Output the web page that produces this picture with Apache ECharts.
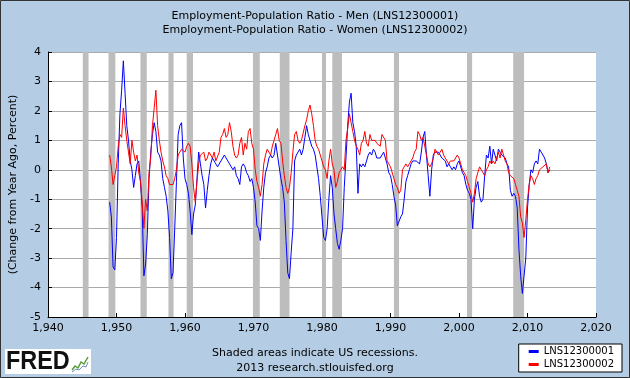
<!DOCTYPE html>
<html><head><meta charset="utf-8">
<script src="https://cdn.jsdelivr.net/npm/echarts@6/dist/echarts.min.js"></script>
<style>html,body{margin:0;padding:0;background:#b4cde4}#c{width:630px;height:378px}</style>
</head><body><div id="c"></div>
<script>
// Quarterly readings (start 1949.0, step 0.25 year) of year-over-year change, percent
const startYear = 1949;
const stepYears = 0.25;
const menValues = [
 -1.1,-1.6,-3.3,-3.4, -2.3,0.2,1.9,2.7, 3.7,2.6,1.5,1.0, 0.3,0.0,-0.6,-0.2, 0.2,0.3,-0.4,-1.3,
 -3.6,-3.2,-2.2,-0.3, 0.6,1.2,1.6,1.3, 0.6,0.5,0.3,-0.3, -0.6,-0.9,-1.4,-2.3, -3.7,-3.5,-2.0,-0.4,
 1.2,1.5,
 1.6,0.4, -0.3,-0.5,-0.8,-1.4, -2.2,-1.5,-1.2,-0.3, 0.6,0.2,-0.2,-0.5, -1.3,-0.7,-0.2,0.2,
 0.4,0.4,0.2,0.1, 0.1,0.3,0.3,0.5, 0.5,0.3,0.2,0.2, 0.0,0.1,-0.2,-0.3, -0.5,0.1,0.2,0.1,
 -0.1,-0.2,-0.4,-0.3,
 -0.6,-1.1,-1.9,-2.0, -2.4,-1.4,-0.6,-0.1, 0.1,0.4,0.5,0.4, 0.5,0.9,0.5,0.5, -0.3,-0.6,-1.1,-2.4,
 -3.5,-3.7,-2.8,-2.0, 0.3,0.5,0.5,0.7, 0.5,0.7,1.1,1.5, 1.2,1.0,0.8,0.7, 0.5,0.1,-0.3,-0.9,
 -1.6,-2.3,
 -2.4,-2.0, -1.0,-0.2,-0.6,-1.5, -2.0,-2.5,-2.7,-2.4, -2.0,-0.6,0.4,1.5, 2.3,2.6,1.6,1.3,
 0.8,-0.8,0.2,0.1, 0.2,0.1,0.3,0.5, 0.6,0.5,0.7,0.6, 0.4,0.4,0.4,0.4, 0.6,0.4,0.2,-0.1,
 -0.2,-0.5,-0.9,-1.2, -1.9,-1.9,
 -1.6,-1.5, -1.0,-0.4,-0.2,0.0, 0.2,0.3,0.3,0.3, 0.3,0.2,0.6,1.1, 1.3,0.5,-0.2,-0.9,
 0.0,0.5,0.6,0.6, 0.6,0.6,0.4,0.4, 0.3,0.1,0.2,0.1, 0.0,0.1,0.0,0.2, 0.3,0.3,-0.1,-0.2,
 -0.5,-0.7,-0.8,-1.0,
 -2.0,-1.0,-0.6,-0.4, -0.9,-1.1,-1.0,-0.2, 0.5,0.4,0.8,0.2, 0.7,0.5,0.3,0.7, 0.6,0.5,0.5,0.4,
 0.2,0.1,-0.7,-0.9, -0.8,-0.9,-1.3,-2.7, -3.6,-4.2,-4.2,-3.0, -1.3,-0.5,0.0,-0.1, 0.2,0.3,0.2,0.7,
 0.6,0.6,0.4,0.2, -0.1,0.0
];
const womenValues = [
 0.5,0.1,-0.5,-0.2, 0.1,0.8,1.2,1.1, 2.1,1.5,1.0,0.6, 0.2,1.0,0.6,0.3, 0.5,-0.1,-0.4,-1.1,
 -2.0,-1.0,-1.4,-0.1, 0.4,1.5,2.1,2.7, 1.5,1.0,0.6,0.3, 0.1,-0.2,-0.3,-0.5, -0.5,-0.5,-0.3,0.0,
 0.5,0.5,
 0.7,0.7, 0.6,0.8,0.9,0.8, 0.2,-0.6,-1.1,-0.4, 0.2,0.5,0.5,0.6, 0.3,0.4,0.6,0.6,
 0.4,0.6,0.3,0.3, 0.6,1.1,1.2,1.4, 1.1,1.2,1.6,1.3, 0.8,0.5,0.4,0.5, 0.9,1.1,0.5,0.9,
 0.7,1.3,1.4,0.9,
 0.7,0.0,-0.4,-0.6, -0.9,-0.5,0.2,0.5, 0.7,0.6,0.5,0.8, 1.0,1.2,1.4,1.0, 0.9,0.3,-0.2,-0.6,
 -0.8,-0.6,-0.1,0.6, 1.2,1.3,1.0,0.9, 1.0,1.0,1.5,1.7, 2.0,2.2,1.9,1.5, 1.0,0.8,0.7,0.5,
 0.3,0.1,
 0.0,-0.3, 0.3,0.7,0.2,0.0, -0.6,-0.4,-0.1,0.0, 0.1,0.0,1.0,1.4, 1.9,1.6,1.3,1.0,
 0.8,0.7,0.5,0.9, 1.0,1.3,0.9,0.8, 1.2,1.0,1.0,1.0, 0.9,0.9,0.8,1.2, 1.2,1.0,0.3,0.2,
 0.1,0.1,-0.3,-0.5, -0.6,-0.8,
 -0.7,0.0, 0.1,0.2,0.1,0.2, 0.3,0.4,0.6,0.7, 1.3,1.2,1.0,1.1, 0.8,0.5,0.2,0.1,
 0.2,0.4,0.7,0.7, 0.5,0.6,0.7,0.5, 0.5,0.3,0.2,0.3, 0.3,0.3,0.4,0.5, 0.4,0.2,0.0,-0.1,
 -0.2,-0.4,-0.6,-0.8,
 -1.1,-0.8,-0.3,-0.1, 0.1,0.0,-0.1,-0.2, 0.0,0.1,0.3,0.2, 0.3,0.2,0.4,0.6, 0.4,0.7,0.5,0.3,
 0.2,-0.1,-0.2,-0.2, -0.3,-0.5,-0.7,-0.9, -1.6,-1.8,-2.3,-1.7, -1.0,-0.5,-0.2,-0.3, -0.5,-0.3,-0.2,0.0,
 0.0,0.1,0.1,0.2, -0.1,0.1
];
// NBER recessions (decimal years, peak month to end of trough month)
const recessionStarts = [1945.083,1948.833,1953.5,1957.583,1960.25,1969.917,1973.833,1980.0,1981.5,1990.5,2001.167,2007.917];
const recessionEnds   = [1945.917,1949.833,1954.417,1958.333,1961.167,1970.917,1975.25,1980.583,1982.917,1991.25,2001.917,2009.5];
const seriesNames = ['LNS12300001','LNS12300002'];
const titleLines = ['Employment-Population Ratio - Men (LNS12300001)','Employment-Population Ratio - Women (LNS12300002)'];
const footerLines = ['Shaded areas indicate US recessions.','2013 research.stlouisfed.org'];
const yAxisTitle = '(Change from Year Ago, Percent)';

const FONT = 'DejaVu Sans';
const toPairs = vals => vals.map((v,i)=>[startYear + i*stepYears, v]);

const chart = echarts.init(document.getElementById('c'), null, {renderer:'canvas'});
chart.setOption({
  backgroundColor:'#b4cde4',
  animation:false,
  title:[
    {text:titleLines.join('\n'), left:'center', top:4,
     textStyle:{fontFamily:FONT,fontSize:11,fontWeight:'normal',color:'#000',lineHeight:14}},
    {text:footerLines.join('\n'), left:'center', top:341,
     textStyle:{fontFamily:FONT,fontSize:11,fontWeight:'normal',color:'#000',lineHeight:15}}
  ],
  grid:{left:48,right:34,top:52,bottom:61,show:true,backgroundColor:'#fff',borderWidth:0},
  legend:{
    data:seriesNames, orient:'vertical', right:8, bottom:6,
    backgroundColor:'#fff', borderColor:'#000', borderWidth:1, borderRadius:0,
    padding:[2,8,2,10], itemGap:2, itemWidth:10, itemHeight:3, icon:'rect',
    textStyle:{fontFamily:FONT,fontSize:10,color:'#000',lineHeight:11}
  },
  xAxis:{type:'value',min:1940,max:2020,interval:10,
    axisLine:{show:true,onZero:false,lineStyle:{color:'#000',width:1}},
    axisTick:{show:true,inside:true,length:4,lineStyle:{color:'#000'}},
    axisLabel:{fontFamily:FONT,fontSize:11,color:'#000',margin:6},
    splitLine:{show:false}},
  yAxis:{type:'value',min:-5,max:4,interval:1,
    name:yAxisTitle,nameLocation:'middle',nameRotate:90,nameGap:24,
    nameTextStyle:{fontFamily:FONT,fontSize:11,color:'#000'},
    axisLine:{show:true,onZero:false,lineStyle:{color:'#000',width:1}},
    axisTick:{show:true,inside:true,length:4,lineStyle:{color:'#000'}},
    axisLabel:{fontFamily:FONT,fontSize:11,color:'#000',margin:7},
    splitLine:{show:true,lineStyle:{color:'#aaaaaa',width:1}}},
  series:[
    {type:'line',name:'_rec',data:[],z:1,silent:true,
     markArea:{silent:true,itemStyle:{color:'#bdbdbd',opacity:1},
       data:recessionStarts.map((s,i)=>[{xAxis:s},{xAxis:recessionEnds[i]}])}},
    {type:'line',name:seriesNames[0],data:toPairs(menValues),showSymbol:false,z:3,
     lineStyle:{color:'#0000ff',width:1},itemStyle:{color:'#0000ff'}},
    {type:'line',name:seriesNames[1],data:toPairs(womenValues),showSymbol:false,z:4,
     lineStyle:{color:'#ff0000',width:1},itemStyle:{color:'#ff0000'}}
  ],
  graphic:[
    {type:'rect',shape:{x:0.5,y:0.5,width:629,height:377},style:{fill:null,stroke:'#333',lineWidth:1},silent:true,z:100},
    {type:'rect',shape:{x:5,y:349,width:86,height:25},style:{fill:'#fff'},z:50},
    {type:'text',x:6,y:349,scaleX:0.9,style:{text:'FRED',font:'bold 26px "Liberation Sans"',fill:'#111'},z:51},
    {type:'polyline',shape:{points:[[72,370],[75,366],[78,368],[81,362],[84,364],[88,357]]},style:{stroke:'#5a9a3a',lineWidth:1.5,fill:null},z:51},
    {type:'polyline',shape:{points:[[72,372],[76,369],[79,370],[83,366],[86,367],[88,362]]},style:{stroke:'#6c8fc0',lineWidth:1,fill:null},z:51}
  ]
});
</script></body></html>
